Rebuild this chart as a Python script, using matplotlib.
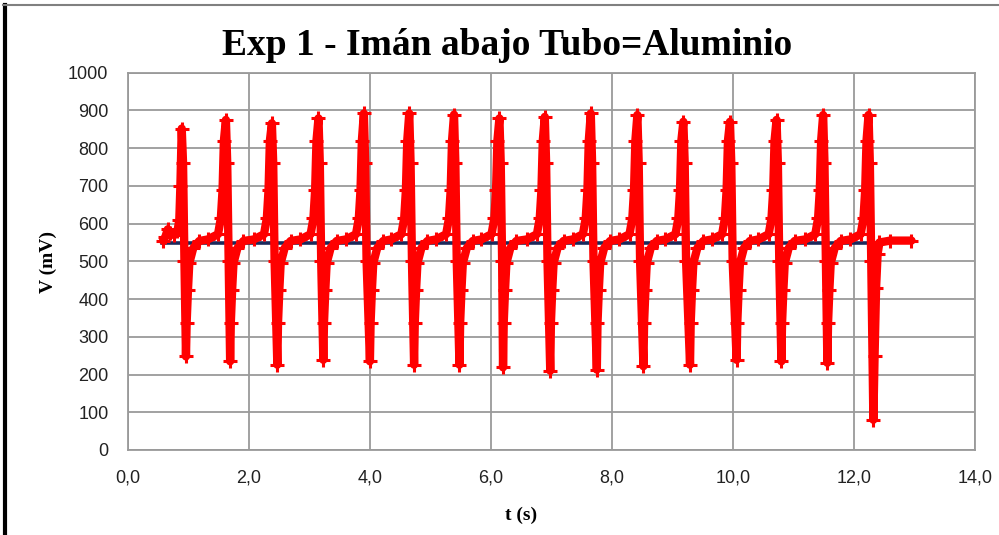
import matplotlib.pyplot as plt
from matplotlib.lines import Line2D

# pulse peaks and troughs (time in s, voltage in mV)
peak_t = [0.89, 1.62, 2.38, 3.15, 3.90, 4.65, 5.39, 6.14, 6.89, 7.65, 8.42, 9.18, 9.95, 10.72, 11.49, 12.24]
peak_v = [852, 875, 866, 879, 892, 892, 889, 879, 883, 892, 888, 870, 870, 875, 888, 888]
trough_t = [0.96, 1.69, 2.47, 3.23, 4.00, 4.73, 5.48, 6.20, 6.98, 7.75, 8.52, 9.29, 10.06, 10.80, 11.56, 12.32]
trough_v = [248, 235, 226, 239, 235, 226, 226, 219, 210, 213, 222, 226, 239, 235, 231, 80]

# shape of one pulse
rise_dt = [-0.30, -0.13, -0.083, -0.055, -0.033]   # before the peak
rise_v = [558, 572, 615, 690, 820]
fall_dt = [0.022, 0.045]                            # after the peak
fall_v = [760, 500]
rec_dt = [0.011, 0.033, 0.055, 0.12, 0.22]          # after the trough
rec_v = [336, 424, 495, 535, 554]

# start of the record and the tail after the last pulse
lead_t = [0.58, 0.62, 0.66, 0.70, 0.76, 0.82, 0.85, 0.868]
lead_v = [555, 565, 585, 575, 570, 580, 610, 700]
tail_t = [12.34, 12.365, 12.39, 12.42, 12.60, 12.95]
tail_v = [250, 430, 520, 550, 555, 555]

# reference level (blue line)
base_t = [0.57, 12.37]
base_v = [549, 549]

x_ticks = [0, 2, 4, 6, 8, 10, 12, 14]
x_labels = ["0,0", "2,0", "4,0", "6,0", "8,0", "10,0", "12,0", "14,0"]
y_ticks = [0, 100, 200, 300, 400, 500, 600, 700, 800, 900, 1000]

# build the red trace
t = list(lead_t)
v = list(lead_v)
n = len(peak_t)
for i in range(n):
    if i > 0:
        t += [peak_t[i] + d for d in rise_dt]
        v += rise_v
    t.append(peak_t[i])
    v.append(peak_v[i])
    t += [peak_t[i] + d for d in fall_dt]
    v += fall_v
    t.append(trough_t[i])
    v.append(trough_v[i])
    if i < n - 1:
        t += [trough_t[i] + d for d in rec_dt]
        v += rec_v
    else:
        t += tail_t
        v += tail_v

fig = plt.figure(figsize=(9.99, 5.35), dpi=100)
ax = fig.add_axes([0.128, 0.159, 0.848, 0.705])

ax.plot(base_t, base_v, color="#1b2a5c", lw=2.6, zorder=2)
ax.plot(t, v, color="red", lw=6, marker="+", ms=10, mew=2.2,
        solid_joinstyle="round", solid_capstyle="round", zorder=3)

ax.set_xlim(0, 14)
ax.set_ylim(0, 1000)
ax.set_xticks(x_ticks)
ax.set_xticklabels(x_labels)
ax.set_yticks(y_ticks)
ax.tick_params(length=0, labelsize=13, colors="#222222", pad=14)
for lab in ax.get_xticklabels() + ax.get_yticklabels():
    lab.set_family("Liberation Sans")
ax.tick_params(axis="x", pad=14)

ax.grid(True, color="#9a9a9a", lw=1.3)
ax.set_axisbelow(True)
for s in ax.spines.values():
    s.set_color("#9a9a9a")
    s.set_linewidth(1.3)

fig.text(0.508, 0.915, "Exp 1 - Imán abajo Tubo=Aluminio", ha="center", va="center",
         fontsize=27, fontweight="bold", family="Liberation Serif")
fig.text(0.522, 0.037, "t (s)", ha="center", va="center",
         fontsize=14, fontweight="bold", family="Liberation Serif")
fig.text(0.048, 0.51, "V (mV)", ha="center", va="center", rotation=90,
         fontsize=14, fontweight="bold", family="Liberation Serif")

# outer frame of the screenshot
fig.add_artist(Line2D([0.005, 0.005], [0, 0.99], color="black", lw=3))
fig.add_artist(Line2D([0.003, 1.0], [0.99, 0.99], color="#808080", lw=1.5))

plt.savefig("out.png", dpi=100)
plt.close()
